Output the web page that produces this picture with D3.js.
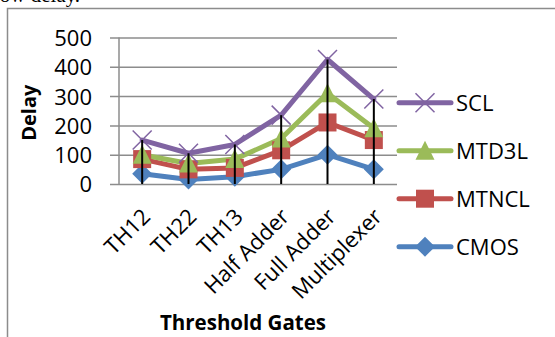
<!DOCTYPE html>
<html>
<head>
<meta charset="utf-8">
<script src="https://cdn.jsdelivr.net/npm/d3@7"></script>
<style>
  html, body { margin: 0; padding: 0; background: #fff; }
  svg { display: block; }
  text { font-family: "Open Sans", "Noto Sans", sans-serif; fill: #000; }
</style>
</head>
<body>
<svg id="chart" width="555" height="337"></svg>
<script>
// Delay of each gate type for four logic styles
const categories = ["TH12", "TH22", "TH13", "Half Adder", "Full Adder", "Multiplexer"];
const cmos  = [35, 15, 25, 50, 100, 50];
const mtncl = [85, 50, 55, 115, 210, 150];
const mtd3l = [100, 70, 85, 155, 310, 190];
const scl   = [150, 105, 135, 235, 425, 290];
const yTicks = [0, 100, 200, 300, 400, 500];

const series = [
  { name: "CMOS",  values: cmos,  color: "#4F81BD", marker: "diamond" },
  { name: "MTNCL", values: mtncl, color: "#C0504D", marker: "square" },
  { name: "MTD3L", values: mtd3l, color: "#9BBB59", marker: "triangle" },
  { name: "SCL",   values: scl,   color: "#8064A2", marker: "x" }
];
const legendOrder = ["SCL", "MTD3L", "MTNCL", "CMOS"];

const svg = d3.select("#chart");
svg.append("rect").attr("width", 555).attr("height", 337).attr("fill", "#fff");

// end of the paragraph line running above the figure
svg.append("text")
  .attr("x", -6).attr("y", 2)
  .style("font-family", "'Liberation Serif', serif")
  .style("font-size", "21px")
  .text("low delay.");

// outer chart frame
svg.append("path")
  .attr("d", "M7.5,340V8.5H560")
  .attr("fill", "none").attr("stroke", "#8c8c8c").attr("stroke-width", 1.5);

const plot = { left: 119, right: 397, top: 37.5, bottom: 184 };

const x = d3.scalePoint().domain(categories).range([plot.left, plot.right]).padding(0.5);
const y = d3.scaleLinear().domain([0, 500]).range([plot.bottom, plot.top]);

// gridlines + value labels
const yAxis = svg.append("g")
  .attr("transform", `translate(110,0)`)
  .call(d3.axisLeft(y).tickValues(yTicks).tickSize(-(plot.right - 110)).tickPadding(18).tickFormat(d3.format("d")));
yAxis.select(".domain").remove();
yAxis.selectAll(".tick line").attr("stroke", "#8c8c8c").attr("stroke-width", 1.5);
yAxis.selectAll(".tick text").style("font-size", "22px").attr("dy", "0.36em");

// vertical value axis line
svg.append("line")
  .attr("x1", plot.left).attr("x2", plot.left)
  .attr("y1", y(500)).attr("y2", y(0))
  .attr("stroke", "#8c8c8c").attr("stroke-width", 1.5);

// category labels, rotated
const xAxis = svg.append("g")
  .attr("transform", `translate(0,${plot.bottom})`)
  .call(d3.axisBottom(x).tickSize(0).tickPadding(0));
xAxis.select(".domain").remove();
xAxis.selectAll(".tick text")
  .style("font-size", "22px")
  .attr("text-anchor", "end")
  .attr("dy", 0)
  .attr("transform", "translate(9,34) rotate(-45)");

// series lines
const line = d3.line().x((d, i) => x(categories[i])).y(d => y(d));
series.forEach(s => {
  svg.append("path")
    .datum(s.values)
    .attr("d", line)
    .attr("fill", "none")
    .attr("stroke", s.color)
    .attr("stroke-width", 5)
    .attr("stroke-linejoin", "round")
    .attr("stroke-linecap", "round");
});

function drawMarker(g, type, cx, cy, color) {
  if (type === "diamond") {
    g.append("path").attr("d", `M${cx},${cy - 10}L${cx + 10},${cy}L${cx},${cy + 10}L${cx - 10},${cy}Z`).attr("fill", color);
  } else if (type === "square") {
    g.append("rect").attr("x", cx - 9).attr("y", cy - 9).attr("width", 18).attr("height", 18).attr("fill", color);
  } else if (type === "triangle") {
    g.append("path").attr("d", `M${cx},${cy - 10}L${cx + 9.5},${cy + 9}L${cx - 9.5},${cy + 9}Z`).attr("fill", color);
  } else {
    g.append("path").attr("d", `M${cx - 9.5},${cy - 9.5}L${cx + 9.5},${cy + 9.5}M${cx - 9.5},${cy + 9.5}L${cx + 9.5},${cy - 9.5}`)
      .attr("stroke", color).attr("stroke-width", 1.5).attr("fill", "none");
  }
}

// markers
series.forEach(s => {
  const g = svg.append("g");
  s.values.forEach((v, i) => drawMarker(g, s.marker, x(categories[i]), y(v), s.color));
});

// drop lines from the highest point of each category to the axis
categories.forEach((c, i) => {
  const top = d3.max(series, s => s.values[i]);
  svg.append("line")
    .attr("x1", x(c)).attr("x2", x(c))
    .attr("y1", y(top)).attr("y2", y(0))
    .attr("stroke", "#000").attr("stroke-width", 2);
});

// axis titles
svg.append("text")
  .attr("transform", `translate(36,${(y(500) + y(0)) / 2 + 2}) rotate(-90)`)
  .attr("text-anchor", "middle")
  .style("font-size", "20px").style("font-weight", "bold")
  .text("Delay");

svg.append("text")
  .attr("x", 243).attr("y", 330)
  .attr("text-anchor", "middle")
  .style("font-size", "20.5px").style("font-weight", "bold")
  .text("Threshold Gates");

// legend
const legend = svg.append("g");
legendOrder.forEach((name, k) => {
  const s = series.find(d => d.name === name);
  const ly = 102.7 + k * 48;
  legend.append("line")
    .attr("x1", 399).attr("x2", 451).attr("y1", ly).attr("y2", ly)
    .attr("stroke", s.color).attr("stroke-width", 5).attr("stroke-linecap", "round");
  drawMarker(legend, s.marker, 425, ly, s.color);
  legend.append("text")
    .attr("x", 456).attr("y", ly).attr("dy", "0.36em")
    .style("font-size", "22px")
    .text(name);
});
</script>
</body>
</html>
